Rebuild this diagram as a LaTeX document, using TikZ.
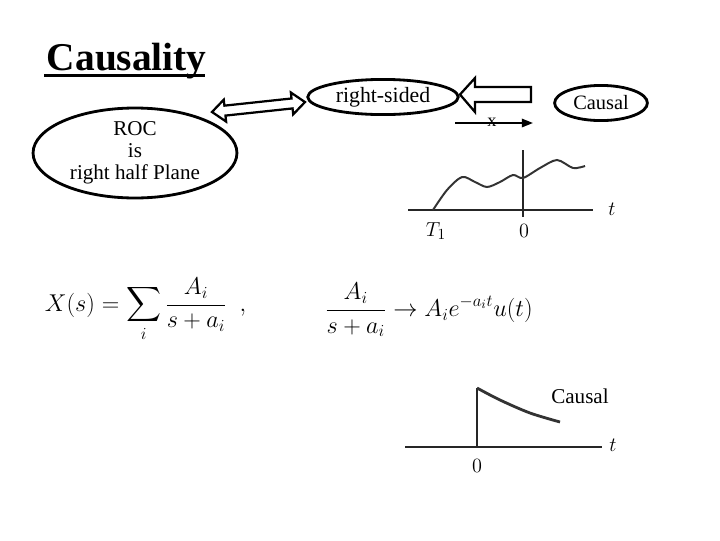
\documentclass[tikz,border=0pt]{standalone}
\usepackage{amsmath,amssymb,exscale}
\usepackage{fontspec}
\setmainfont{Liberation Serif}
\usetikzlibrary{shapes.geometric,arrows.meta}

\begin{document}
\begin{tikzpicture}[x=0.025cm, y=-0.025cm,
    bubble/.style={draw, ellipse, line width=2pt, inner sep=0pt},
    hollow/.style={draw, line width=1.6pt, line join=miter, fill=white},
    axisline/.style={line width=1.2pt, black!85},
    sig/.style={line width=1.4pt, black!80, smooth}]
    \useasboundingbox (0,0) rectangle (720,540);

    \node[anchor=base west, font=\fontsize{28}{30}\selectfont\bfseries] (title) at (42,70) {Causality};
    \draw[line width=1.8pt] (44,75.5) -- (205,75.5);

    % sizes in pt: 1 px = 0.711pt
    \node[bubble, minimum width=145pt, minimum height=64pt, align=center,
      font=\fontsize{15}{15.5}\selectfont] (roc) at (135,153) {ROC\\is\\right half Plane};
    \node[bubble, minimum width=107pt, minimum height=25pt, font=\fontsize{15.5}{16}\selectfont] (rsided) at (383,97) {right-sided};
    \node[bubble, minimum width=66pt, minimum height=25pt, font=\fontsize{14.5}{16}\selectfont] (causal) at (601,103) {Causal};

    % double arrow between roc and rsided
    \begin{scope}[shift={(212,112)}, rotate=6.1]
        \draw[hollow] (0,0) -- (13,-11) -- (13,-5) -- (80.5,-5) -- (80.5,-11) -- (93.5,0)
            -- (80.5,11) -- (80.5,5) -- (13,5) -- (13,11) -- cycle;
    \end{scope}

    % causal implies right-sided
    \draw[hollow] (460,94.5) -- (475,78) -- (475,87) -- (531,87) -- (531,102) -- (475,102)
        -- (475,112) -- cycle;

    % right-sided does not imply causal
    \coordinate (nfrom) at (455,123);
    \coordinate (nto) at (533,123);
    \draw[line width=1.4pt, -{Triangle[length=8pt, width=6pt]}] (nfrom) -- (nto);
    \node[font=\fontsize{13}{13}\selectfont, inner sep=0pt] (cross) at (492,122) {x};

    % right-sided signal
    \draw[axisline] (408,210) -- (593,210);
    \draw[axisline] (523,150) -- (523,217);
    \draw[sig] plot coordinates {(433,210) (447,190) (462,177) (475,182) (487,187)
        (500,182) (513,175) (523,178) (540,168) (557,160) (573,168) (585,166)};
    \node[font=\fontsize{15}{15}\selectfont] (t1) at (612,209) {$t$};
    \node[font=\fontsize{15}{15}\selectfont] (T1) at (436,231) {$T_1$};
    \node[font=\fontsize{15}{15}\selectfont] (z1) at (524,231) {$0$};

    % formulas
    \node[anchor=west, font=\fontsize{18}{21}\selectfont] (sumeq) at (40,310)
        {$\displaystyle X(s)=\sum_i\frac{A_i}{s+a_i}\ \ ,$};
    \node[anchor=west, font=\fontsize{18.5}{21}\selectfont] (pair) at (320,310)
        {$\displaystyle \frac{A_i}{s+a_i}\to A_i e^{-a_i t}u(t)$};

    % causal signal
    \node[font=\fontsize{15}{16}\selectfont] (causal2) at (580,396) {Causal};
    \draw[axisline] (405,447) -- (602,447);
    \draw[axisline] (477,388) -- (477,447);
    \draw[sig, line width=2pt] plot coordinates {(477,388) (500,400) (530,413) (560,422)};
    \node[font=\fontsize{15}{15}\selectfont] (t2) at (613,445) {$t$};
    \node[font=\fontsize{15}{15}\selectfont] (z2) at (477,466) {$0$};
\end{tikzpicture}
\end{document}
